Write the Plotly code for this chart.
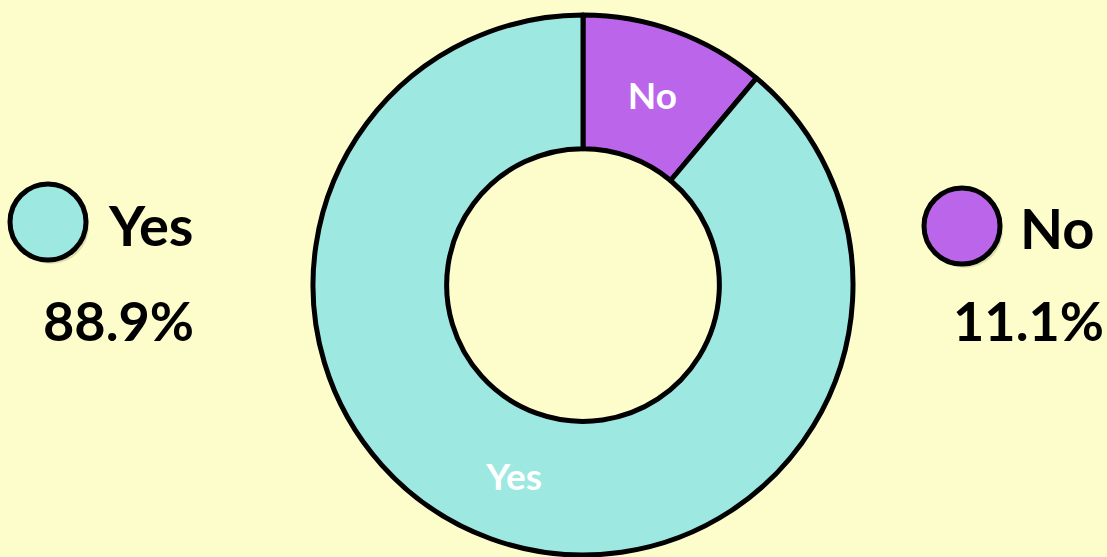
import plotly.graph_objects as go

# Data
labels = ["No", "Yes"]
values = [11.1, 88.9]
colors = ["#bb66ea", "#9de8e1"]
legend_labels = ["Yes", "No"]
legend_pcts = ["88.9%", "11.1%"]
legend_colors = ["#9de8e1", "#bb66ea"]

W, H = 1107, 557
BG = "#fdfdcc"
FONT = "Lato"

fig = go.Figure()
fig.add_trace(go.Pie(
    labels=labels, values=values, sort=False, direction="clockwise", rotation=0,
    hole=0.505,
    marker=dict(colors=colors, line=dict(color="black", width=5)),
    textinfo="label", textposition="inside", insidetextorientation="horizontal",
    textfont=dict(color="white", size=37, family=FONT, weight="bold"),
    showlegend=False, hoverinfo="label+percent",
    domain=dict(x=[313 / W, 853 / W], y=[2 / H, 542 / H]),
))

def px(x):
    return x / W

def py(y):
    return 1 - y / H

# legend blocks: circle, label, percentage
blocks = [
    dict(cx=48, cy=222, r=38, tx=106, ty=224, px_=118, py_=320),
    dict(cx=962, cy=226, r=38, tx=1018, ty=227, px_=1028, py_=320),
]
shapes = []
annotations = []
for b, lab, pct, col in zip(blocks, legend_labels, legend_pcts, legend_colors):
    # soft shadow
    shapes.append(dict(type="circle", xref="paper", yref="paper",
                       x0=px(b["cx"] - b["r"] + 3), x1=px(b["cx"] + b["r"] + 3),
                       y0=py(b["cy"] + b["r"] + 4), y1=py(b["cy"] - b["r"] + 4),
                       fillcolor="rgba(120,120,60,0.22)", line=dict(width=0)))
    shapes.append(dict(type="circle", xref="paper", yref="paper",
                       x0=px(b["cx"] - b["r"]), x1=px(b["cx"] + b["r"]),
                       y0=py(b["cy"] + b["r"]), y1=py(b["cy"] - b["r"]),
                       fillcolor=col, line=dict(color="black", width=5)))
    annotations.append(dict(text=lab, xref="paper", yref="paper", x=px(b["tx"]), y=py(b["ty"]),
                            xanchor="left", yanchor="middle", showarrow=False,
                            font=dict(size=56, color="black", family=FONT, weight="bold")))
    annotations.append(dict(text=pct, xref="paper", yref="paper", x=px(b["px_"]), y=py(b["py_"]),
                            xanchor="center", yanchor="middle", showarrow=False,
                            font=dict(size=54, color="black", family=FONT, weight="bold")))

fig.update_layout(
    width=W, height=H,
    margin=dict(l=0, r=0, t=0, b=0),
    paper_bgcolor=BG, plot_bgcolor=BG,
    shapes=shapes, annotations=annotations,
    showlegend=False,
)

fig.write_html("out.html", config={"displayModeBar": False},
               post_script="document.body.style.margin='0';document.body.style.background='#fdfdcc';")
